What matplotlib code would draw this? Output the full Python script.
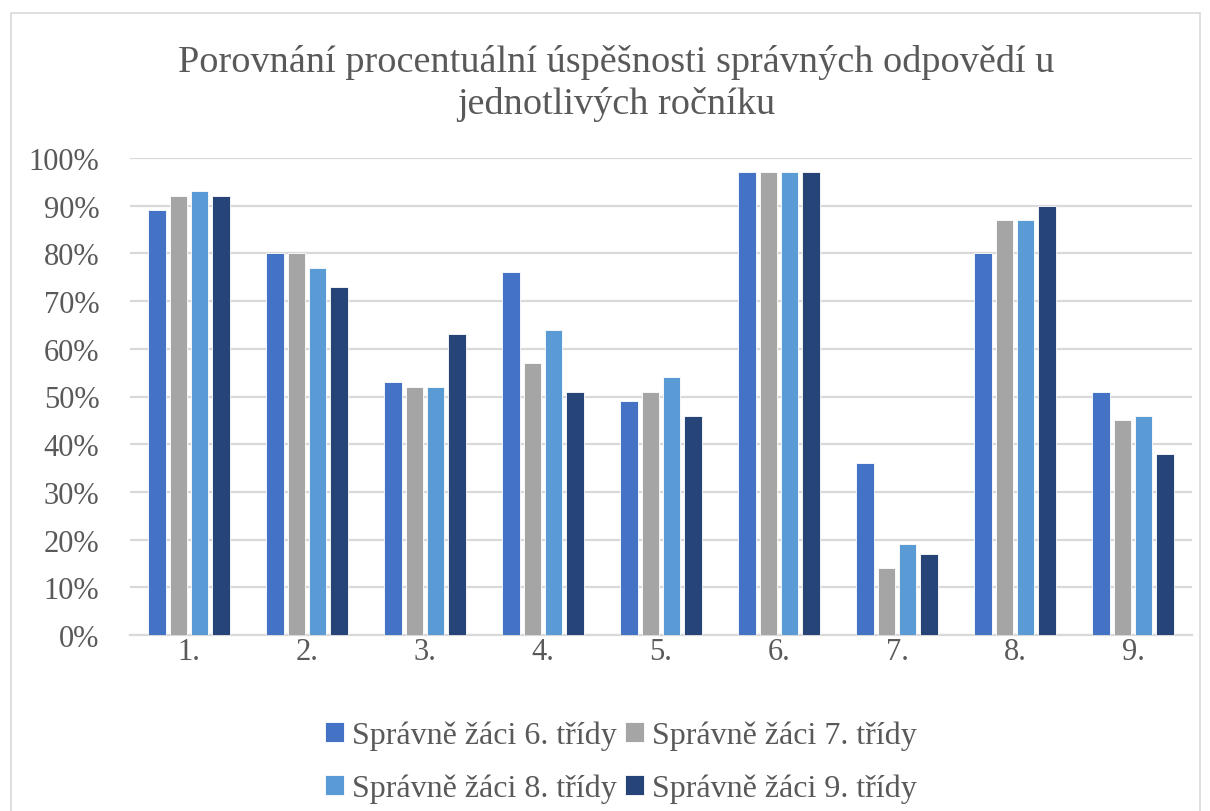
import matplotlib
matplotlib.use("Agg")
import matplotlib.pyplot as plt
import numpy as np
from matplotlib.ticker import PercentFormatter
from matplotlib.patches import Rectangle

categories = ["1.", "2.", "3.", "4.", "5.", "6.", "7.", "8.", "9."]
series_names = ["Správně žáci 6. třídy", "Správně žáci 7. třídy",
                "Správně žáci 8. třídy", "Správně žáci 9. třídy"]
grade6 = [89, 80, 53, 76, 49, 97, 36, 80, 51]
grade7 = [92, 80, 52, 57, 51, 97, 14, 87, 45]
grade8 = [93, 77, 52, 64, 54, 97, 19, 87, 46]
grade9 = [92, 73, 63, 51, 46, 97, 17, 90, 38]
colors = ["#4472C4", "#A5A5A5", "#5B9BD5", "#264478"]
title_lines = ["Porovnání procentuální úspěšnosti správných odpovědí u",
               "jednotlivých ročníku"]

plt.rcParams['font.family'] = ['Liberation Serif', 'DejaVu Serif']

W, H = 1210, 812
fig = plt.figure(figsize=(W / 100, H / 100), dpi=100)
fig.patch.set_facecolor("white")
fig.add_artist(Rectangle((11 / W, -0.01), (1200 - 11) / W, 1 - 14 / H + 0.01,
                         transform=fig.transFigure, fill=False,
                         edgecolor="#D9D9D9", linewidth=1.2))

ax = fig.add_axes([130 / W, 1 - 636 / H, (1192 - 130) / W, (636 - 159) / H])
x = np.arange(len(categories))
pitch = 0.181
width = 0.148
data = [grade6, grade7, grade8, grade9]
bars = []
for i, (vals, c, name) in enumerate(zip(data, colors, series_names)):
    b = ax.bar(x + (i - 1.5) * pitch, np.array(vals) / 100, width=width, color=c,
               edgecolor="white", linewidth=0.6, label=name, zorder=3)
    bars.append(b)

ax.set_xlim(-0.5, len(categories) - 0.5)
ax.set_ylim(0, 1.0)
ax.set_yticks(np.arange(0, 1.01, 0.1))
ax.yaxis.set_major_formatter(PercentFormatter(1.0, decimals=0))
ax.set_xticks(x)
ax.set_xticklabels(categories)
ax.grid(axis="y", color="#D9D9D9", linewidth=1.6, zorder=0)
ax.set_axisbelow(True)
for s in ["top", "right", "left"]:
    ax.spines[s].set_visible(False)
ax.spines["bottom"].set_color("#D9D9D9")
ax.spines["bottom"].set_linewidth(1.6)
ax.tick_params(axis="both", length=0, labelsize=22, labelcolor="#595959")
ax.tick_params(axis="y", pad=22)
ax.tick_params(axis="x", pad=1.5)

fig.text(616 / W, 1 - 63 / H, title_lines[0], ha="center", va="center", fontsize=27.5,
         color="#595959")
fig.text(616 / W, 1 - 104 / H, title_lines[1], ha="center", va="center", fontsize=27.5,
         color="#595959")

order = [0, 2, 1, 3]
leg = fig.legend([bars[k] for k in order], [series_names[k] for k in order],
                 loc="center", bbox_to_anchor=(621 / W, 1 - 763 / H),
                 ncol=2, frameon=False, fontsize=23, handlelength=0.6, handleheight=0.6,
                 handletextpad=0.25, columnspacing=0.25, labelspacing=0.72, borderpad=0)
for t in leg.get_texts():
    t.set_color("#595959")

fig.savefig("out.png", dpi=100, facecolor="white")
